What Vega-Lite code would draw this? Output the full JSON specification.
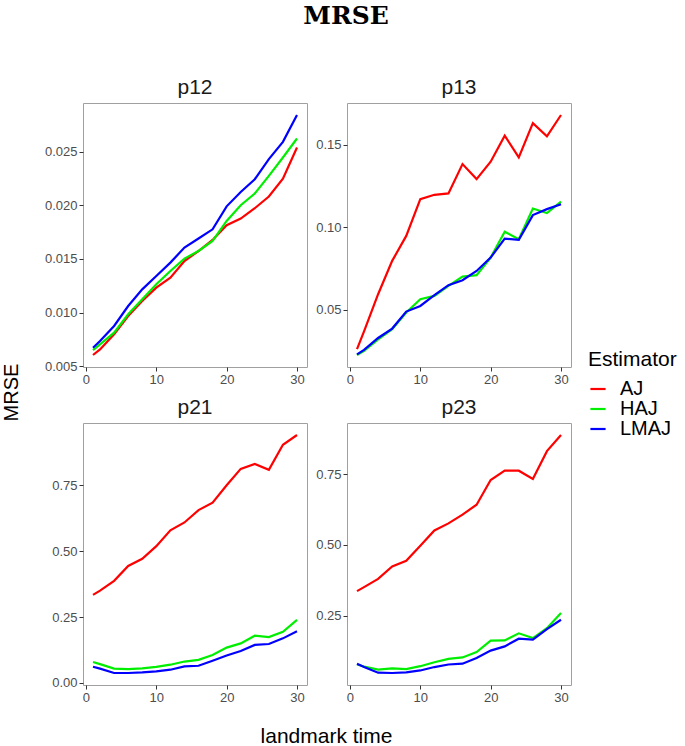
{
  "$schema": "https://vega.github.io/schema/vega-lite/v6.json",
  "background": "white",
  "padding": {"left": 0, "top": 3, "right": 5, "bottom": 2},
  "title": {"text": "MRSE", "font": "DejaVu Serif", "fontSize": 25, "fontWeight": "bold", "anchor": "middle", "frame": "group", "color": "black", "offset": 48, "dx": 263},
  "config": {
    "font": "Liberation Sans",
    "view": {"stroke": "#a0a0a0", "strokeWidth": 1},
    "axis": {"grid": false, "domain": false, "tickColor": "#333333", "tickSize": 4, "labelColor": "#4d4d4d", "labelFontSize": 13, "labelPadding": 2, "labelFont": "Liberation Sans", "titleFont": "Liberation Sans", "titleFontWeight": "normal", "titleColor": "black"},
    "title": {"font": "Liberation Sans", "fontSize": 21, "fontWeight": "normal", "color": "#1a1a1a", "offset": 5},
    "legend": {"titleFont": "Liberation Sans", "labelFont": "Liberation Sans", "titleFontSize": 21, "labelFontSize": 20, "titleFontWeight": "normal", "titleColor": "black", "labelColor": "black", "symbolType": "stroke", "symbolSize": 230, "symbolStrokeWidth": 2.2, "rowPadding": 0, "titlePadding": 9, "labelOffset": 12}
  },
  "data": {"values": [
    {"panel":"p12","time":1,"estimator":"AJ","mrse":0.00606},{"panel":"p12","time":2,"estimator":"AJ","mrse":0.00658},{"panel":"p12","time":4,"estimator":"AJ","mrse":0.00798},{"panel":"p12","time":6,"estimator":"AJ","mrse":0.00969},{"panel":"p12","time":8,"estimator":"AJ","mrse":0.01109},{"panel":"p12","time":10,"estimator":"AJ","mrse":0.01233},{"panel":"p12","time":12,"estimator":"AJ","mrse":0.01326},{"panel":"p12","time":14,"estimator":"AJ","mrse":0.01481},{"panel":"p12","time":16,"estimator":"AJ","mrse":0.01574},{"panel":"p12","time":18,"estimator":"AJ","mrse":0.01677},{"panel":"p12","time":20,"estimator":"AJ","mrse":0.01814},{"panel":"p12","time":22,"estimator":"AJ","mrse":0.01876},{"panel":"p12","time":24,"estimator":"AJ","mrse":0.01972},{"panel":"p12","time":26,"estimator":"AJ","mrse":0.02081},{"panel":"p12","time":28,"estimator":"AJ","mrse":0.02248},{"panel":"p12","time":30,"estimator":"AJ","mrse":0.02537},
    {"panel":"p12","time":1,"estimator":"HAJ","mrse":0.00652},{"panel":"p12","time":2,"estimator":"HAJ","mrse":0.00705},{"panel":"p12","time":4,"estimator":"HAJ","mrse":0.00814},{"panel":"p12","time":6,"estimator":"HAJ","mrse":0.00985},{"panel":"p12","time":8,"estimator":"HAJ","mrse":0.01124},{"panel":"p12","time":10,"estimator":"HAJ","mrse":0.01264},{"panel":"p12","time":12,"estimator":"HAJ","mrse":0.01388},{"panel":"p12","time":14,"estimator":"HAJ","mrse":0.01503},{"panel":"p12","time":16,"estimator":"HAJ","mrse":0.01574},{"panel":"p12","time":18,"estimator":"HAJ","mrse":0.01668},{"panel":"p12","time":20,"estimator":"HAJ","mrse":0.01854},{"panel":"p12","time":22,"estimator":"HAJ","mrse":0.0200},{"panel":"p12","time":24,"estimator":"HAJ","mrse":0.02109},{"panel":"p12","time":26,"estimator":"HAJ","mrse":0.02273},{"panel":"p12","time":28,"estimator":"HAJ","mrse":0.02444},{"panel":"p12","time":30,"estimator":"HAJ","mrse":0.02621},
    {"panel":"p12","time":1,"estimator":"LMAJ","mrse":0.00674},{"panel":"p12","time":2,"estimator":"LMAJ","mrse":0.00736},{"panel":"p12","time":4,"estimator":"LMAJ","mrse":0.00876},{"panel":"p12","time":6,"estimator":"LMAJ","mrse":0.01062},{"panel":"p12","time":8,"estimator":"LMAJ","mrse":0.01217},{"panel":"p12","time":10,"estimator":"LMAJ","mrse":0.01342},{"panel":"p12","time":12,"estimator":"LMAJ","mrse":0.01466},{"panel":"p12","time":14,"estimator":"LMAJ","mrse":0.01606},{"panel":"p12","time":16,"estimator":"LMAJ","mrse":0.0169},{"panel":"p12","time":18,"estimator":"LMAJ","mrse":0.01776},{"panel":"p12","time":20,"estimator":"LMAJ","mrse":0.0199},{"panel":"p12","time":22,"estimator":"LMAJ","mrse":0.02124},{"panel":"p12","time":24,"estimator":"LMAJ","mrse":0.02242},{"panel":"p12","time":26,"estimator":"LMAJ","mrse":0.0243},{"panel":"p12","time":28,"estimator":"LMAJ","mrse":0.0259},{"panel":"p12","time":30,"estimator":"LMAJ","mrse":0.0284},
    {"panel":"p13","time":1,"estimator":"AJ","mrse":0.0262},{"panel":"p13","time":2,"estimator":"AJ","mrse":0.037},{"panel":"p13","time":4,"estimator":"AJ","mrse":0.0595},{"panel":"p13","time":6,"estimator":"AJ","mrse":0.0797},{"panel":"p13","time":8,"estimator":"AJ","mrse":0.0948},{"panel":"p13","time":10,"estimator":"AJ","mrse":0.1171},{"panel":"p13","time":12,"estimator":"AJ","mrse":0.1197},{"panel":"p13","time":14,"estimator":"AJ","mrse":0.1205},{"panel":"p13","time":16,"estimator":"AJ","mrse":0.1383},{"panel":"p13","time":18,"estimator":"AJ","mrse":0.1292},{"panel":"p13","time":20,"estimator":"AJ","mrse":0.1397},{"panel":"p13","time":22,"estimator":"AJ","mrse":0.1555},{"panel":"p13","time":24,"estimator":"AJ","mrse":0.1423},{"panel":"p13","time":26,"estimator":"AJ","mrse":0.1631},{"panel":"p13","time":28,"estimator":"AJ","mrse":0.1551},{"panel":"p13","time":30,"estimator":"AJ","mrse":0.168},
    {"panel":"p13","time":1,"estimator":"HAJ","mrse":0.0227},{"panel":"p13","time":2,"estimator":"HAJ","mrse":0.0252},{"panel":"p13","time":4,"estimator":"HAJ","mrse":0.0322},{"panel":"p13","time":6,"estimator":"HAJ","mrse":0.0383},{"panel":"p13","time":8,"estimator":"HAJ","mrse":0.0484},{"panel":"p13","time":10,"estimator":"HAJ","mrse":0.0565},{"panel":"p13","time":12,"estimator":"HAJ","mrse":0.0585},{"panel":"p13","time":14,"estimator":"HAJ","mrse":0.0646},{"panel":"p13","time":16,"estimator":"HAJ","mrse":0.0702},{"panel":"p13","time":18,"estimator":"HAJ","mrse":0.0710},{"panel":"p13","time":20,"estimator":"HAJ","mrse":0.0817},{"panel":"p13","time":22,"estimator":"HAJ","mrse":0.0973},{"panel":"p13","time":24,"estimator":"HAJ","mrse":0.0928},{"panel":"p13","time":26,"estimator":"HAJ","mrse":0.1114},{"panel":"p13","time":28,"estimator":"HAJ","mrse":0.1086},{"panel":"p13","time":30,"estimator":"HAJ","mrse":0.1155},
    {"panel":"p13","time":1,"estimator":"LMAJ","mrse":0.0231},{"panel":"p13","time":2,"estimator":"LMAJ","mrse":0.0258},{"panel":"p13","time":4,"estimator":"LMAJ","mrse":0.0330},{"panel":"p13","time":6,"estimator":"LMAJ","mrse":0.0387},{"panel":"p13","time":8,"estimator":"LMAJ","mrse":0.0490},{"panel":"p13","time":10,"estimator":"LMAJ","mrse":0.0524},{"panel":"p13","time":12,"estimator":"LMAJ","mrse":0.0589},{"panel":"p13","time":14,"estimator":"LMAJ","mrse":0.0650},{"panel":"p13","time":16,"estimator":"LMAJ","mrse":0.0680},{"panel":"p13","time":18,"estimator":"LMAJ","mrse":0.0736},{"panel":"p13","time":20,"estimator":"LMAJ","mrse":0.0817},{"panel":"p13","time":22,"estimator":"LMAJ","mrse":0.0932},{"panel":"p13","time":24,"estimator":"LMAJ","mrse":0.0924},{"panel":"p13","time":26,"estimator":"LMAJ","mrse":0.1074},{"panel":"p13","time":28,"estimator":"LMAJ","mrse":0.1110},{"panel":"p13","time":30,"estimator":"LMAJ","mrse":0.1140},
    {"panel":"p21","time":1,"estimator":"AJ","mrse":0.334},{"panel":"p21","time":2,"estimator":"AJ","mrse":0.350},{"panel":"p21","time":4,"estimator":"AJ","mrse":0.3875},{"panel":"p21","time":6,"estimator":"AJ","mrse":0.444},{"panel":"p21","time":8,"estimator":"AJ","mrse":0.471},{"panel":"p21","time":10,"estimator":"AJ","mrse":0.519},{"panel":"p21","time":12,"estimator":"AJ","mrse":0.579},{"panel":"p21","time":14,"estimator":"AJ","mrse":0.609},{"panel":"p21","time":16,"estimator":"AJ","mrse":0.656},{"panel":"p21","time":18,"estimator":"AJ","mrse":0.684},{"panel":"p21","time":20,"estimator":"AJ","mrse":0.75},{"panel":"p21","time":22,"estimator":"AJ","mrse":0.8125},{"panel":"p21","time":24,"estimator":"AJ","mrse":0.831},{"panel":"p21","time":26,"estimator":"AJ","mrse":0.809},{"panel":"p21","time":28,"estimator":"AJ","mrse":0.904},{"panel":"p21","time":30,"estimator":"AJ","mrse":0.941},
    {"panel":"p21","time":1,"estimator":"HAJ","mrse":0.079},{"panel":"p21","time":2,"estimator":"HAJ","mrse":0.071},{"panel":"p21","time":4,"estimator":"HAJ","mrse":0.054},{"panel":"p21","time":6,"estimator":"HAJ","mrse":0.0525},{"panel":"p21","time":8,"estimator":"HAJ","mrse":0.055},{"panel":"p21","time":10,"estimator":"HAJ","mrse":0.061},{"panel":"p21","time":12,"estimator":"HAJ","mrse":0.069},{"panel":"p21","time":14,"estimator":"HAJ","mrse":0.081},{"panel":"p21","time":16,"estimator":"HAJ","mrse":0.0875},{"panel":"p21","time":18,"estimator":"HAJ","mrse":0.106},{"panel":"p21","time":20,"estimator":"HAJ","mrse":0.134},{"panel":"p21","time":22,"estimator":"HAJ","mrse":0.15},{"panel":"p21","time":24,"estimator":"HAJ","mrse":0.179},{"panel":"p21","time":26,"estimator":"HAJ","mrse":0.174},{"panel":"p21","time":28,"estimator":"HAJ","mrse":0.194},{"panel":"p21","time":30,"estimator":"HAJ","mrse":0.239},
    {"panel":"p21","time":1,"estimator":"LMAJ","mrse":0.061},{"panel":"p21","time":2,"estimator":"LMAJ","mrse":0.054},{"panel":"p21","time":4,"estimator":"LMAJ","mrse":0.0375},{"panel":"p21","time":6,"estimator":"LMAJ","mrse":0.0375},{"panel":"p21","time":8,"estimator":"LMAJ","mrse":0.04},{"panel":"p21","time":10,"estimator":"LMAJ","mrse":0.044},{"panel":"p21","time":12,"estimator":"LMAJ","mrse":0.05},{"panel":"p21","time":14,"estimator":"LMAJ","mrse":0.0625},{"panel":"p21","time":16,"estimator":"LMAJ","mrse":0.065},{"panel":"p21","time":18,"estimator":"LMAJ","mrse":0.084},{"panel":"p21","time":20,"estimator":"LMAJ","mrse":0.104},{"panel":"p21","time":22,"estimator":"LMAJ","mrse":0.121},{"panel":"p21","time":24,"estimator":"LMAJ","mrse":0.144},{"panel":"p21","time":26,"estimator":"LMAJ","mrse":0.1475},{"panel":"p21","time":28,"estimator":"LMAJ","mrse":0.169},{"panel":"p21","time":30,"estimator":"LMAJ","mrse":0.196},
    {"panel":"p23","time":1,"estimator":"AJ","mrse":0.337},{"panel":"p23","time":2,"estimator":"AJ","mrse":0.351},{"panel":"p23","time":4,"estimator":"AJ","mrse":0.380},{"panel":"p23","time":6,"estimator":"AJ","mrse":0.424},{"panel":"p23","time":8,"estimator":"AJ","mrse":0.444},{"panel":"p23","time":10,"estimator":"AJ","mrse":0.497},{"panel":"p23","time":12,"estimator":"AJ","mrse":0.551},{"panel":"p23","time":14,"estimator":"AJ","mrse":0.576},{"panel":"p23","time":16,"estimator":"AJ","mrse":0.607},{"panel":"p23","time":18,"estimator":"AJ","mrse":0.642},{"panel":"p23","time":20,"estimator":"AJ","mrse":0.729},{"panel":"p23","time":22,"estimator":"AJ","mrse":0.762},{"panel":"p23","time":24,"estimator":"AJ","mrse":0.762},{"panel":"p23","time":26,"estimator":"AJ","mrse":0.733},{"panel":"p23","time":28,"estimator":"AJ","mrse":0.831},{"panel":"p23","time":30,"estimator":"AJ","mrse":0.888},
    {"panel":"p23","time":1,"estimator":"HAJ","mrse":0.078},{"panel":"p23","time":2,"estimator":"HAJ","mrse":0.071},{"panel":"p23","time":4,"estimator":"HAJ","mrse":0.060},{"panel":"p23","time":6,"estimator":"HAJ","mrse":0.064},{"panel":"p23","time":8,"estimator":"HAJ","mrse":0.062},{"panel":"p23","time":10,"estimator":"HAJ","mrse":0.072},{"panel":"p23","time":12,"estimator":"HAJ","mrse":0.086},{"panel":"p23","time":14,"estimator":"HAJ","mrse":0.098},{"panel":"p23","time":16,"estimator":"HAJ","mrse":0.103},{"panel":"p23","time":18,"estimator":"HAJ","mrse":0.122},{"panel":"p23","time":20,"estimator":"HAJ","mrse":0.162},{"panel":"p23","time":22,"estimator":"HAJ","mrse":0.163},{"panel":"p23","time":24,"estimator":"HAJ","mrse":0.188},{"panel":"p23","time":26,"estimator":"HAJ","mrse":0.171},{"panel":"p23","time":28,"estimator":"HAJ","mrse":0.206},{"panel":"p23","time":30,"estimator":"HAJ","mrse":0.260},
    {"panel":"p23","time":1,"estimator":"LMAJ","mrse":0.081},{"panel":"p23","time":2,"estimator":"LMAJ","mrse":0.069},{"panel":"p23","time":4,"estimator":"LMAJ","mrse":0.049},{"panel":"p23","time":6,"estimator":"LMAJ","mrse":0.048},{"panel":"p23","time":8,"estimator":"LMAJ","mrse":0.050},{"panel":"p23","time":10,"estimator":"LMAJ","mrse":0.057},{"panel":"p23","time":12,"estimator":"LMAJ","mrse":0.069},{"panel":"p23","time":14,"estimator":"LMAJ","mrse":0.078},{"panel":"p23","time":16,"estimator":"LMAJ","mrse":0.081},{"panel":"p23","time":18,"estimator":"LMAJ","mrse":0.101},{"panel":"p23","time":20,"estimator":"LMAJ","mrse":0.127},{"panel":"p23","time":22,"estimator":"LMAJ","mrse":0.142},{"panel":"p23","time":24,"estimator":"LMAJ","mrse":0.169},{"panel":"p23","time":26,"estimator":"LMAJ","mrse":0.166},{"panel":"p23","time":28,"estimator":"LMAJ","mrse":0.203},{"panel":"p23","time":30,"estimator":"LMAJ","mrse":0.236}
  ]},
  "columns": 2,
  "spacing": {"row": 56, "column": 40},
  "bounds": "flush",
  "concat": [
    {
      "title": "p12", "width": 224, "height": 264,
      "transform": [{"filter": "datum.panel === 'p12'"}],
      "mark": {"type": "line", "strokeWidth": 2.2},
      "encoding": {
        "x": {"field": "time", "type": "quantitative", "scale": {"zero": false, "nice": false, "padding": 10}, "axis": {"values": [0, 10, 20, 30], "title": null}},
        "y": {"field": "mrse", "type": "quantitative", "scale": {"zero": false, "nice": false, "padding": 12}, "axis": {"values": [0.005, 0.010, 0.015, 0.020, 0.025], "format": ".3f", "title": "MRSE", "titleFontSize": 20, "titleAngle": -90, "titleX": -72, "titleY": 289, "titleAlign": "center", "titleBaseline": "middle"}},
        "color": {"field": "estimator", "type": "nominal", "scale": {"domain": ["AJ", "HAJ", "LMAJ"], "range": ["#ff0000", "#00ee00", "#0000ff"]}, "legend": {"title": "Estimator", "orient": "none", "legendX": 505, "legendY": 246}}
      }
    },
    {
      "title": "p13", "width": 224, "height": 264,
      "transform": [{"filter": "datum.panel === 'p13'"}],
      "mark": {"type": "line", "strokeWidth": 2.2},
      "encoding": {
        "x": {"field": "time", "type": "quantitative", "scale": {"zero": false, "nice": false, "padding": 10}, "axis": {"values": [0, 10, 20, 30], "title": null}},
        "y": {"field": "mrse", "type": "quantitative", "scale": {"zero": false, "nice": false, "padding": 12}, "axis": {"values": [0.05, 0.10, 0.15], "format": ".2f", "title": null}},
        "color": {"field": "estimator", "type": "nominal", "scale": {"domain": ["AJ", "HAJ", "LMAJ"], "range": ["#ff0000", "#00ee00", "#0000ff"]}, "legend": {"title": "Estimator", "orient": "none", "legendX": 505, "legendY": 246}}
      }
    },
    {
      "title": "p21", "width": 224, "height": 262,
      "transform": [{"filter": "datum.panel === 'p21'"}],
      "mark": {"type": "line", "strokeWidth": 2.2},
      "encoding": {
        "x": {"field": "time", "type": "quantitative", "scale": {"zero": false, "nice": false, "padding": 10}, "axis": {"values": [0, 10, 20, 30], "title": "landmark time", "titleFontSize": 21, "titleX": 243, "titleY": 57, "titleAlign": "center", "titleBaseline": "alphabetic"}},
        "y": {"field": "mrse", "type": "quantitative", "scale": {"zero": false, "nice": false, "padding": 12}, "axis": {"values": [0, 0.25, 0.5, 0.75], "format": ".2f", "title": null}},
        "color": {"field": "estimator", "type": "nominal", "scale": {"domain": ["AJ", "HAJ", "LMAJ"], "range": ["#ff0000", "#00ee00", "#0000ff"]}, "legend": {"title": "Estimator", "orient": "none", "legendX": 505, "legendY": 246}}
      }
    },
    {
      "title": "p23", "width": 224, "height": 262,
      "transform": [{"filter": "datum.panel === 'p23'"}],
      "mark": {"type": "line", "strokeWidth": 2.2},
      "encoding": {
        "x": {"field": "time", "type": "quantitative", "scale": {"zero": false, "nice": false, "padding": 10}, "axis": {"values": [0, 10, 20, 30], "title": null}},
        "y": {"field": "mrse", "type": "quantitative", "scale": {"zero": false, "nice": false, "padding": 12}, "axis": {"values": [0, 0.25, 0.5, 0.75], "format": ".2f", "title": null}},
        "color": {"field": "estimator", "type": "nominal", "scale": {"domain": ["AJ", "HAJ", "LMAJ"], "range": ["#ff0000", "#00ee00", "#0000ff"]}, "legend": {"title": "Estimator", "orient": "none", "legendX": 505, "legendY": 246}}
      }
    }
  ],
  "resolve": {"scale": {"y": "independent", "x": "independent"}}
}
